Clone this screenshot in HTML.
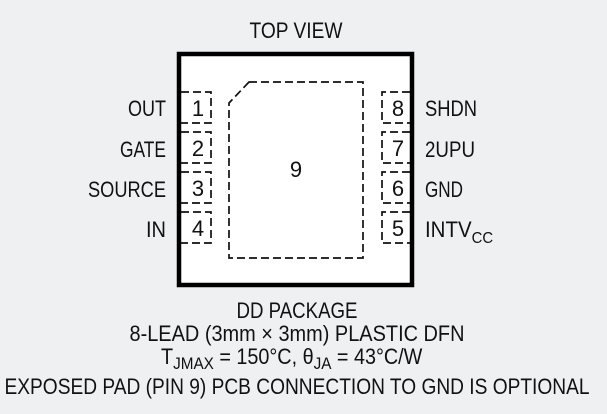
<!DOCTYPE html>
<html><head><meta charset="utf-8"><style>
html,body{margin:0;padding:0;background:#eff0f2;}
svg{display:block}
text{font-family:"Liberation Sans Narrow","Liberation Sans",sans-serif;font-size:22px;fill:#111;}
</style></head><body>
<svg width="607" height="414" viewBox="0 0 607 414" xmlns="http://www.w3.org/2000/svg">
<rect x="0" y="0" width="607" height="414" fill="#eff0f2"/>
<text x="296" y="38" text-anchor="middle" textLength="93" lengthAdjust="spacingAndGlyphs">TOP VIEW</text>
<rect x="179" y="54" width="233" height="231" fill="#fff" stroke="#000" stroke-width="4.5"/>
<g fill="none" stroke="#111" stroke-width="1.7" stroke-dasharray="8,4">
<path d="M249 82 H363 V258 H229 V103 Z"/>
<path d="M181 92 H211 V123 H181"/><path d="M181 132 H211 V163 H181"/>
<path d="M181 172 H211 V203 H181"/><path d="M181 212 H211 V243 H181"/>
<path d="M410 92 H382 V123 H410"/><path d="M410 132 H382 V163 H410"/>
<path d="M410 172 H382 V203 H410"/><path d="M410 212 H382 V243 H410"/>
</g>
<g text-anchor="middle">
<text x="198" y="116">1</text><text x="198" y="156">2</text><text x="198" y="196">3</text><text x="198" y="236">4</text>
<text x="398" y="116">8</text><text x="398" y="156">7</text><text x="398" y="196">6</text><text x="398" y="236">5</text>
<text x="296" y="177">9</text>
</g>
<g text-anchor="end">
<text x="166" y="116" textLength="38" lengthAdjust="spacingAndGlyphs">OUT</text>
<text x="166" y="157" textLength="46" lengthAdjust="spacingAndGlyphs">GATE</text>
<text x="166" y="197" textLength="78" lengthAdjust="spacingAndGlyphs">SOURCE</text>
<text x="166" y="237" textLength="20" lengthAdjust="spacingAndGlyphs">IN</text>
</g>
<text x="425" y="116" textLength="52" lengthAdjust="spacingAndGlyphs">SHDN</text>
<text x="425" y="157" textLength="50" lengthAdjust="spacingAndGlyphs">2UPU</text>
<text x="425" y="197" textLength="38" lengthAdjust="spacingAndGlyphs">GND</text>
<text transform="translate(425,237) scale(0.93,1)">INTV<tspan font-size="16" dy="6">CC</tspan></text>
<g text-anchor="middle">
<text x="297" y="318" textLength="121" lengthAdjust="spacingAndGlyphs">DD PACKAGE</text>
<text x="297" y="341" textLength="335" lengthAdjust="spacingAndGlyphs">8-LEAD (3mm × 3mm) PLASTIC DFN</text>
<text x="297" y="394" textLength="585" lengthAdjust="spacingAndGlyphs">EXPOSED PAD (PIN 9) PCB CONNECTION TO GND IS OPTIONAL</text>
</g>
<text transform="translate(161,364) scale(0.9,1)">T<tspan font-size="17" dy="5">JMAX</tspan><tspan dy="-5"> = 150°C, θ</tspan><tspan font-size="17" dy="5">JA</tspan><tspan dy="-5"> = 43°C/W</tspan></text>
</svg>
</body></html>
